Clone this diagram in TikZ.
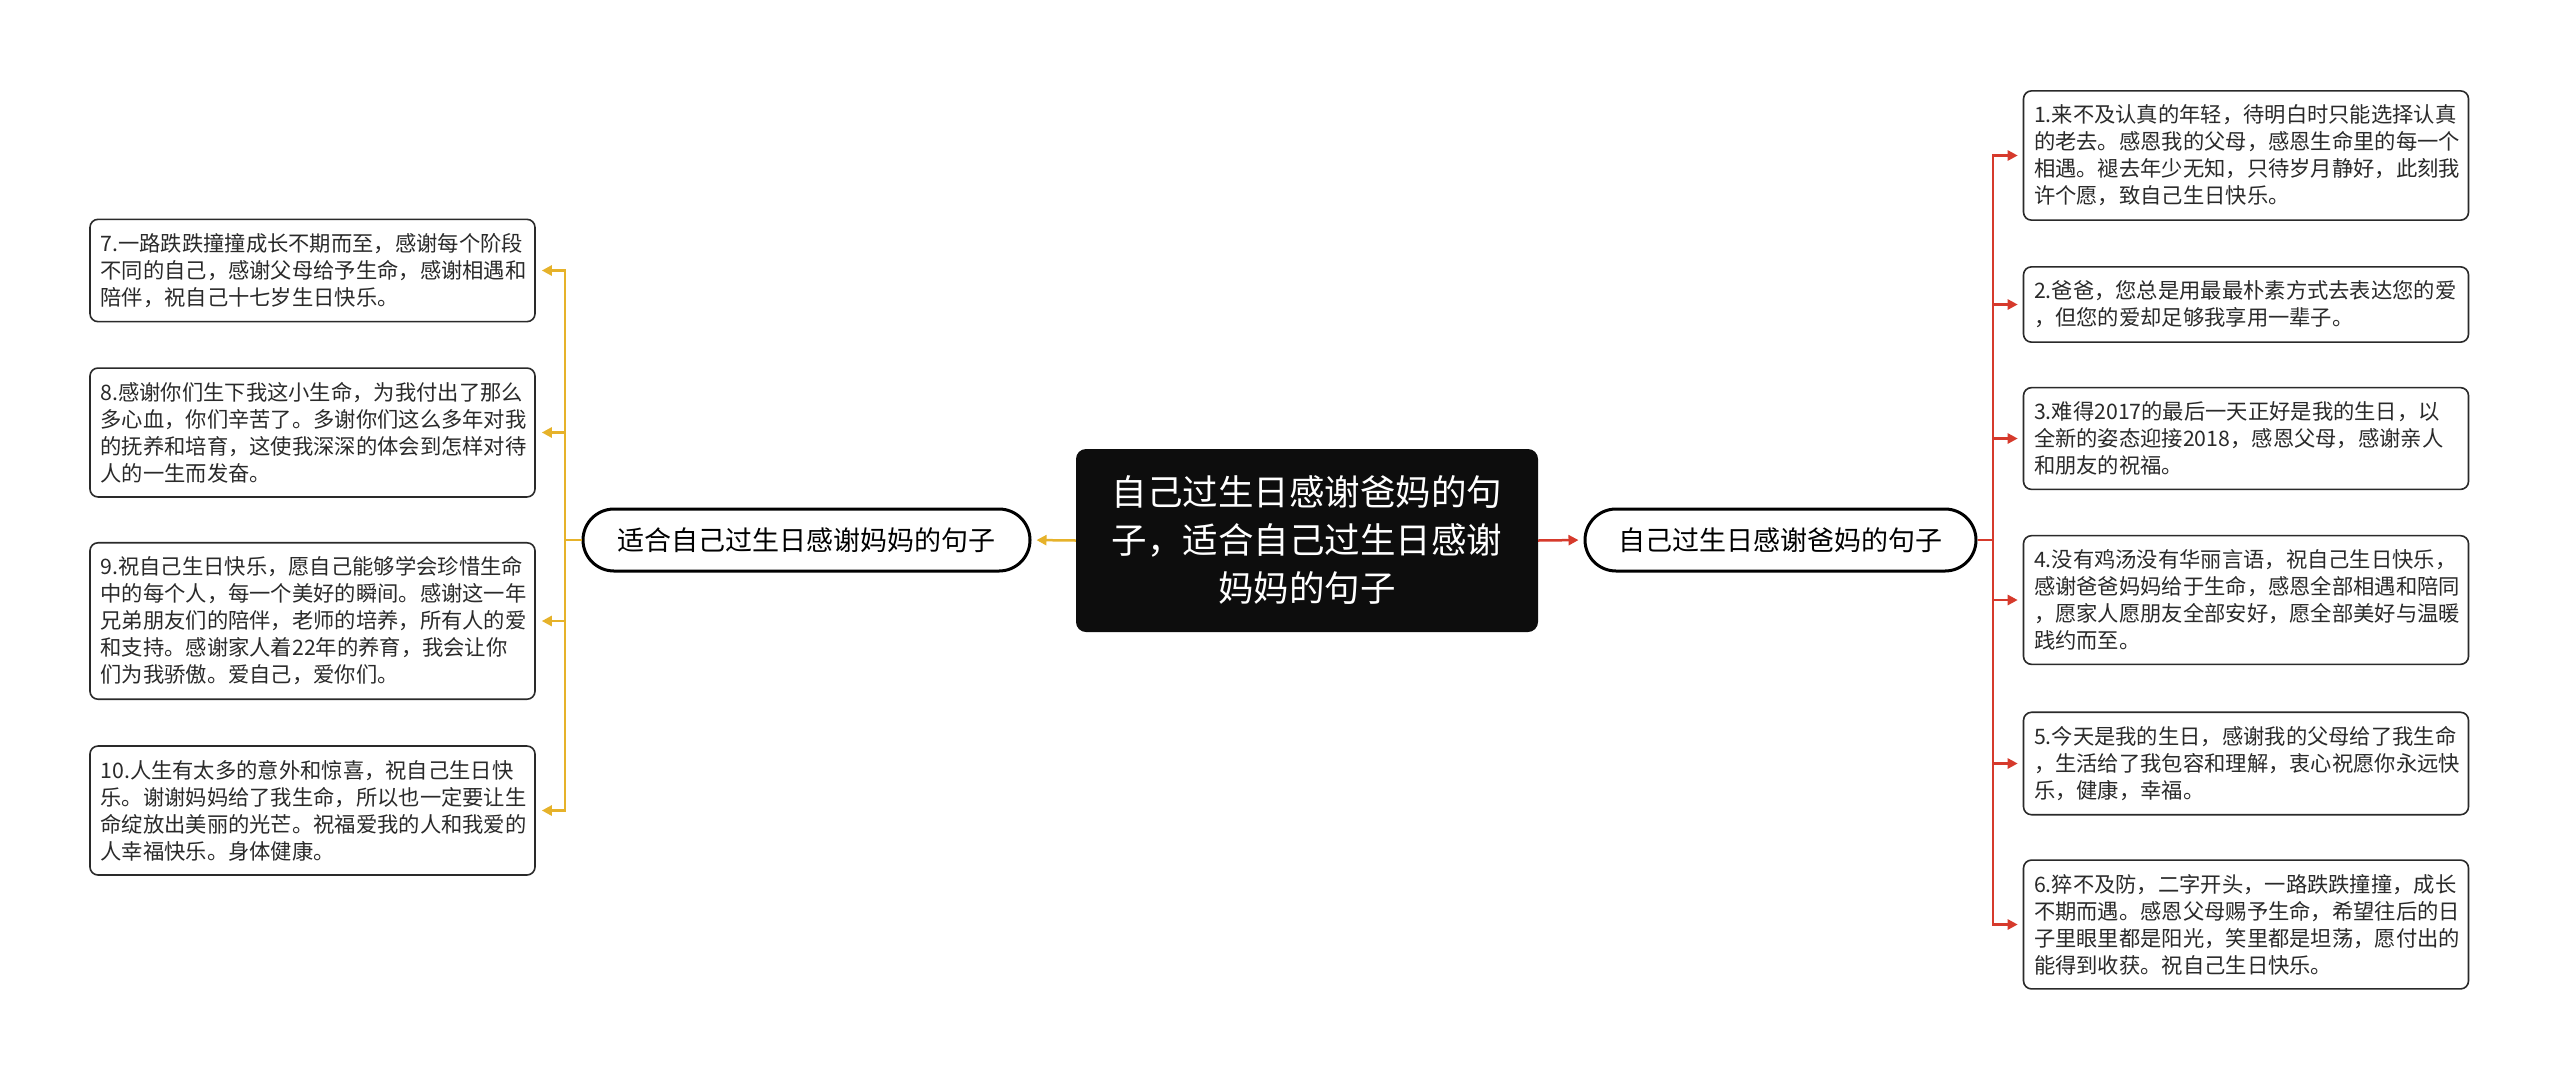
\documentclass[tikz,border=0pt]{standalone}
\usepackage{fontspec}
\setmainfont{Noto Sans CJK SC}
\usetikzlibrary{arrows.meta}
\definecolor{goldc}{HTML}{E6B22A}
\definecolor{redc}{HTML}{D63A2C}
\definecolor{boxc}{HTML}{2A2A2A}
\tikzset{
  leaf/.style={draw=boxc, line width=1.6pt, rounded corners=8pt, fill=white,
    text width=424pt, inner xsep=10.5pt, inner ysep=14pt, align=left,
    text=boxc, font=\fontsize{21.3}{27}\selectfont},
  branchbox/.style={draw=black, line width=3pt, rounded corners=31pt, fill=white,
    minimum height=62pt, inner sep=0pt, font=\fontsize{27}{32}\selectfont},
  rootbox/.style={fill=black!95, rounded corners=10pt, minimum width=462pt,
    minimum height=183pt, text width=440pt, align=center, inner sep=0pt,
    text=white, font=\fontsize{35.5}{48}\selectfont},
  goldline/.style={draw=goldc, line width=2.5pt},
  redline/.style={draw=redc, line width=2.5pt},
  tip/.style={-{Triangle[length=10pt,width=10pt]}}
}
\begin{document}
\begin{tikzpicture}[x=1pt,y=-1pt]
\useasboundingbox[fill=white] (0,0) rectangle (2560,1080);

% root
\node[rootbox] (root) at (1307,540.5) {自己过生日感谢爸妈的句\\子，适合自己过生日感谢\\妈妈的句子};

% branches
\node[branchbox, minimum width=447pt] (bl) at (806.5,540) {适合自己过生日感谢妈妈的句子};
\node[branchbox, minimum width=391pt] (br) at (1780.5,540) {自己过生日感谢爸妈的句子};

% left leaves
\node[leaf] (l7) at (312.5,270.5) {7.一路跌跌撞撞成长不期而至，感谢每个阶段\\不同的自己，感谢父母给予生命，感谢相遇和\\陪伴，祝自己十七岁生日快乐。};
\node[leaf] (l8) at (312.5,432.5) {8.感谢你们生下我这小生命，为我付出了那么\\多心血，你们辛苦了。多谢你们这么多年对我\\的抚养和培育，这使我深深的体会到怎样对待\\人的一生而发奋。};
\node[leaf] (l9) at (312.5,621) {9.祝自己生日快乐，愿自己能够学会珍惜生命\\中的每个人，每一个美好的瞬间。感谢这一年\\兄弟朋友们的陪伴，老师的培养，所有人的爱\\和支持。感谢家人着22年的养育，我会让你\\们为我骄傲。爱自己，爱你们。};
\node[leaf] (l10) at (312.5,810.5) {10.人生有太多的意外和惊喜，祝自己生日快\\乐。谢谢妈妈给了我生命，所以也一定要让生\\命绽放出美丽的光芒。祝福爱我的人和我爱的\\人幸福快乐。身体健康。};

% right leaves
\node[leaf] (r1) at (2246,155.5) {1.来不及认真的年轻，待明白时只能选择认真\\的老去。感恩我的父母，感恩生命里的每一个\\相遇。褪去年少无知，只待岁月静好，此刻我\\许个愿，致自己生日快乐。};
\node[leaf] (r2) at (2246,304.5) {2.爸爸，您总是用最最朴素方式去表达您的爱\\，但您的爱却足够我享用一辈子。};
\node[leaf] (r3) at (2246,438.5) {3.难得2017的最后一天正好是我的生日，以\\全新的姿态迎接2018，感恩父母，感谢亲人\\和朋友的祝福。};
\node[leaf] (r4) at (2246,600) {4.没有鸡汤没有华丽言语，祝自己生日快乐，\\感谢爸爸妈妈给于生命，感恩全部相遇和陪同\\，愿家人愿朋友全部安好，愿全部美好与温暖\\践约而至。};
\node[leaf] (r5) at (2246,763.5) {5.今天是我的生日，感谢我的父母给了我生命\\，生活给了我包容和理解，衷心祝愿你永远快\\乐，健康，幸福。};
\node[leaf] (r6) at (2246,924.5) {6.猝不及防，二字开头，一路跌跌撞撞，成长\\不期而遇。感恩父母赐予生命，希望往后的日\\子里眼里都是阳光，笑里都是坦荡，愿付出的\\能得到收获。祝自己生日快乐。};

% junction coordinates
\coordinate (jl) at (565,540);
\coordinate (jr) at (1993,540);

% root to branches
\draw[goldline, tip, shorten >=5pt] (root.west) -- (bl.east);
\draw[redline, tip, shorten >=5pt] (root.east) -- (br.west);

% left connectors
\draw[goldline] (bl.west) -- (jl);
\foreach \n in {l7,l8,l9,l10}{
  \draw[goldline, tip, shorten >=6pt] (jl) |- (\n.east);
}
% right connectors
\draw[redline] (br.east) -- (jr);
\foreach \n in {r1,r2,r3,r4,r5,r6}{
  \draw[redline, tip, shorten >=5pt] (jr) |- (\n.west);
}
\end{tikzpicture}
\end{document}
